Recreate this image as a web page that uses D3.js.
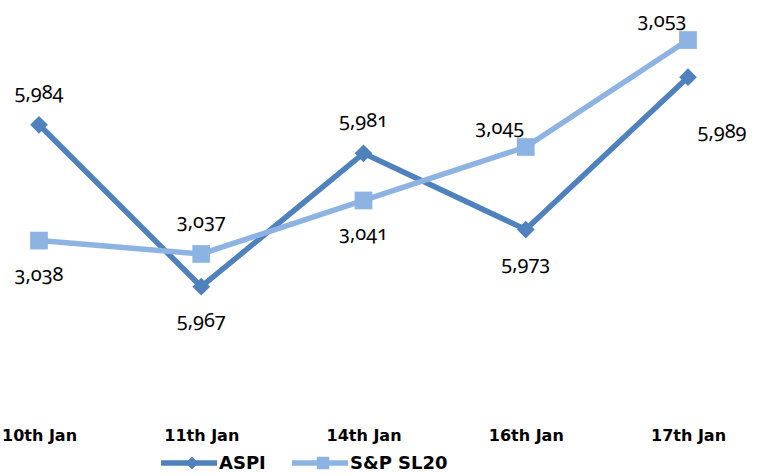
<!DOCTYPE html>
<html>
<head>
<meta charset="utf-8">
<script src="https://cdn.jsdelivr.net/npm/d3@7"></script>
<style>
  html, body { margin: 0; padding: 0; background: #fff; }
  svg { display: block; }
  .val { font-family: "Noto Sans", "Open Sans", sans-serif; font-size: 20px; fill: #000;
         font-feature-settings: "onum" 1; font-variant-numeric: oldstyle-nums; }
  .cat { font-family: "DejaVu Sans", sans-serif; font-weight: bold; font-size: 16px; fill: #000; }
  .leg { font-family: "DejaVu Sans", sans-serif; font-weight: bold; font-size: 18px; fill: #000; }
</style>
</head>
<body>
<svg id="chart" width="760" height="475"></svg>
<script>
// Trading days
const categories = ["10th Jan", "11th Jan", "14th Jan", "16th Jan", "17th Jan"];
// All Share Price Index (primary axis)
const aspi = [5984, 5967, 5981, 5973, 5989];
// S&P Sri Lanka 20 (secondary axis)
const spsl20 = [3038, 3037, 3041, 3045, 3053];
// Where each value label sits relative to its point
const aspiLabelPos = ["top", "bottom", "top", "bottom", "right"];
const spLabelPos = ["bottom", "top", "bottom", "topLeft", "topLeft"];

const svg = d3.select("#chart");
const plot = { left: 39, right: 688, top: 20, bottom: 401 };

const x = d3.scalePoint().domain(categories).range([plot.left, plot.right]);
const yA = d3.scaleLinear().domain([5955, 5995]).range([plot.bottom, plot.top]);
const yS = d3.scaleLinear().domain([3026, 3054.5]).range([plot.bottom, plot.top]);

const dark = "#4F81BD", light = "#8DB3E2";

const offsets = {
  top: [0, -33], bottom: [0, 33], right: [34, 54],
  topLeft: [-26, -20]
};

function drawSeries(values, y, color, symbol, size, labelPos) {
  const pts = values.map((v, i) => ({ c: categories[i], v, pos: labelPos[i] }));
  const line = d3.line().x(d => x(d.c)).y(d => y(d.v));
  svg.append("path").datum(pts)
    .attr("d", line).attr("fill", "none")
    .attr("stroke", color).attr("stroke-width", 5.5).attr("stroke-linejoin", "round");
  svg.append("g").selectAll("path").data(pts).join("path")
    .attr("d", d3.symbol().type(symbol).size(size))
    .attr("transform", d => `translate(${x(d.c)},${y(d.v)})`)
    .attr("fill", color);
  return pts;
}

const aPts = drawSeries(aspi, yA, dark, d3.symbolDiamond2, 200, aspiLabelPos);
const sPts = drawSeries(spsl20, yS, light, d3.symbolSquare2, 400, spLabelPos);

const fmt = d3.format(",");
function labels(pts, y) {
  svg.append("g").selectAll("text").data(pts).join("text")
    .attr("class", "val")
    .attr("x", d => x(d.c) + offsets[d.pos][0])
    .attr("y", d => y(d.v) + offsets[d.pos][1])
    .attr("dy", "0.35em")
    .attr("text-anchor", "middle")
    .text(d => fmt(d.v));
}
labels(aPts, yA);
labels(sPts, yS);

// Category axis labels (no axis line)
const xAxis = d3.axisBottom(x).tickSize(0).tickPadding(0);
const gx = svg.append("g").attr("transform", "translate(0,435)").call(xAxis);
gx.select(".domain").remove();
gx.selectAll("text").attr("class", "cat").attr("dy", "0.35em").attr("y", 0)
  .attr("font-family", null).attr("font-size", null);

// Legend
const legend = [
  { name: "ASPI", color: dark, symbol: d3.symbolDiamond2, size: 110, x: 161 },
  { name: "S&P SL20", color: light, symbol: d3.symbolSquare2, size: 200, x: 292 }
];
const lg = svg.append("g").attr("transform", "translate(0,463)");
legend.forEach(l => {
  lg.append("line").attr("x1", l.x).attr("x2", l.x + 56).attr("y1", 0).attr("y2", 0)
    .attr("stroke", l.color).attr("stroke-width", 5.5);
  lg.append("path").attr("d", d3.symbol().type(l.symbol).size(l.size)())
    .attr("transform", `translate(${l.x + 31},0)`).attr("fill", l.color);
  lg.append("text").attr("class", "leg").attr("x", l.x + 58).attr("y", 0)
    .attr("dy", "0.35em").text(l.name);
});
</script>
</body>
</html>
